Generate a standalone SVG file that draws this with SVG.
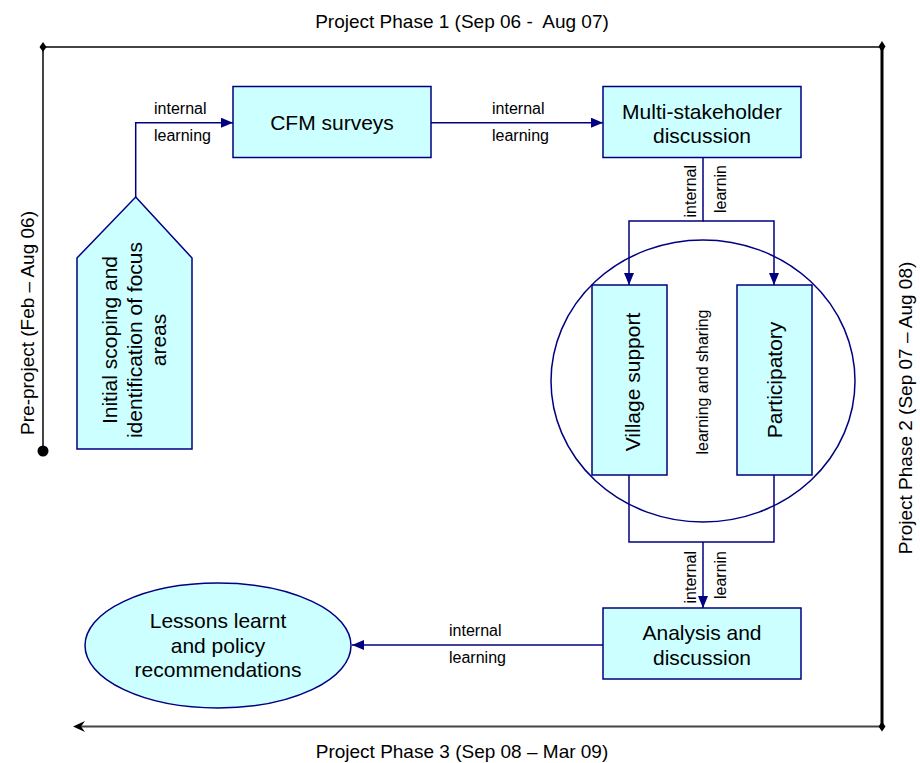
<svg xmlns="http://www.w3.org/2000/svg" width="920" height="763" viewBox="0 0 920 763">
<style>
text{font-family:"Liberation Sans",Arial,sans-serif;fill:#000}
.n{font-size:21px;text-anchor:middle}
.l{font-size:16px}
.f{font-size:19px;text-anchor:middle;white-space:pre}
.box{fill:#CCFFFF;stroke:#000080;stroke-width:1.5}
.c{fill:none;stroke:#000080;stroke-width:1.5}
</style>
<defs>
<marker id="ah" markerWidth="12" markerHeight="10" refX="12" refY="5" orient="auto" markerUnits="userSpaceOnUse">
<path d="M0,0 L12,5 L0,10 Z" fill="#000080"/>
</marker>
</defs>
<g id="frame">
<path d="M43,47 H882" stroke="#444" stroke-width="2" fill="none"/>
<path d="M43,47 V451" stroke="#444" stroke-width="2" fill="none"/>
<path d="M882,47 V726.5" stroke="#000" stroke-width="3" fill="none"/>
<path d="M882,726.5 H80" stroke="#444" stroke-width="2" fill="none"/>
<path d="M73,726.5 L85,721 L81,726.5 L85,732 Z" fill="#000"/>
<path d="M43,42 L46.5,47 L43,52 L39.5,47 Z" fill="#000"/>
<path d="M882,41 L885.5,46.5 L882,52 L878.5,46.5 Z" fill="#000"/>
<path d="M882,721.5 L885.5,726.5 L882,731.5 L878.5,726.5 Z" fill="#000"/>
<circle cx="43" cy="451" r="5.5" fill="#000"/>
<text class="f" x="462" y="28">Project Phase 1 (Sep 06 -  Aug 07)</text>
<text class="f" x="462" y="758">Project Phase 3 (Sep 08 – Mar 09)</text>
<text class="f" transform="translate(34,323) rotate(-90)">Pre-project (Feb – Aug 06)</text>
<text class="f" transform="translate(912,408) rotate(-90)">Project Phase 2 (Sep 07 – Aug 08)</text>
</g>
<g id="connectors">
<path class="c" d="M135.7,197 V122.7 H233" marker-end="url(#ah)"/>
<path class="c" d="M431,122.7 H603" marker-end="url(#ah)"/>
<path class="c" d="M703,157 V221 H629 V285" marker-end="url(#ah)"/>
<path class="c" d="M703,221 H774 V285" marker-end="url(#ah)"/>
<path class="c" d="M629,475 V542 H774 V475"/>
<path class="c" d="M703,542 V608" marker-end="url(#ah)"/>
<path class="c" d="M603,645 H352" marker-end="url(#ah)"/>
<text class="l" x="154" y="114">internal</text>
<text class="l" x="154" y="141">learning</text>
<text class="l" x="492" y="114">internal</text>
<text class="l" x="492" y="141">learning</text>
<text class="l" x="449" y="636">internal</text>
<text class="l" x="449" y="663">learning</text>
<text class="l" text-anchor="end" transform="translate(696,165) rotate(-90)">internal</text>
<text class="l" text-anchor="end" transform="translate(726,165) rotate(-90)">learnin</text>
<text class="l" text-anchor="end" transform="translate(696,551) rotate(-90)">internal</text>
<text class="l" text-anchor="end" transform="translate(726,551) rotate(-90)">learnin</text>
</g>
<g id="pentagon">
<path class="box" d="M135.7,197 L192,258 V449 H77 V258 Z"/>
<text class="n" transform="translate(117,340) rotate(-90)">Initial scoping and</text>
<text class="n" transform="translate(141.5,340) rotate(-90)">identification of focus</text>
<text class="n" transform="translate(166,340) rotate(-90)">areas</text>
</g>
<g id="cfm">
<rect class="box" x="233" y="86.5" width="198" height="71"/>
<text class="n" x="332" y="129.5">CFM surveys</text>
</g>
<g id="multi">
<rect class="box" x="603" y="86.5" width="198" height="71"/>
<text class="n" x="702" y="118.5">Multi-stakeholder</text>
<text class="n" x="702" y="143">discussion</text>
</g>
<g id="sharing">
<ellipse class="c" cx="703" cy="381" rx="152" ry="141"/>
<text class="l" text-anchor="middle" transform="translate(708,382) rotate(-90)">learning and sharing</text>
</g>
<g id="village">
<rect class="box" x="592" y="285" width="75" height="190"/>
<text class="n" transform="translate(640,382) rotate(-90)">Village support</text>
</g>
<g id="participatory">
<rect class="box" x="737" y="285" width="75" height="190"/>
<text class="n" transform="translate(782,380) rotate(-90)">Participatory</text>
</g>
<g id="analysis">
<rect class="box" x="603" y="608" width="198" height="71"/>
<text class="n" x="702" y="640">Analysis and</text>
<text class="n" x="702" y="664.5">discussion</text>
</g>
<g id="lessons">
<ellipse class="box" cx="218" cy="645.5" rx="133" ry="62.5"/>
<text class="n" x="218" y="628">Lessons learnt</text>
<text class="n" x="218" y="652.5">and policy</text>
<text class="n" x="218" y="677">recommendations</text>
</g>
</svg>
